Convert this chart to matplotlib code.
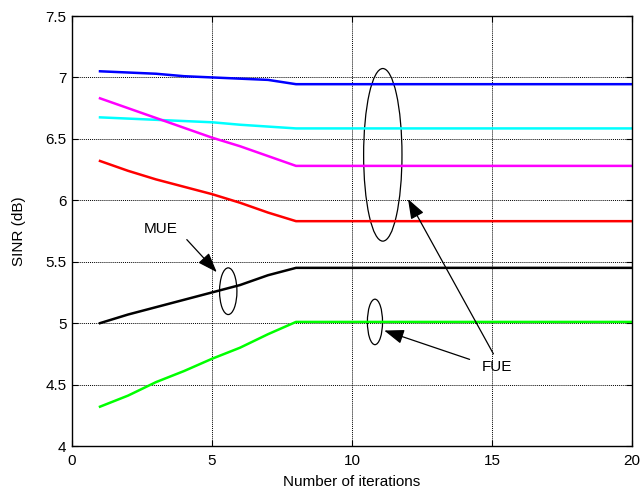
import matplotlib
matplotlib.use('Agg')
import matplotlib.pyplot as plt
from matplotlib.patches import Ellipse
import numpy as np

plt.rcParams['font.family'] = ['Liberation Sans', 'DejaVu Sans']
plt.rcParams['font.size'] = 11

# iterations 1..20, values change until iteration 8 then stay flat
iters = np.arange(1, 21)
blue_head = [7.05, 7.04, 7.03, 7.01, 7.0, 6.99, 6.98, 6.945]
cyan_head = [6.675, 6.665, 6.655, 6.645, 6.635, 6.615, 6.60, 6.585]
magenta_head = [6.83, 6.75, 6.67, 6.59, 6.51, 6.44, 6.36, 6.28]
red_head = [6.32, 6.24, 6.17, 6.11, 6.05, 5.98, 5.90, 5.83]
black_head = [5.0, 5.07, 5.13, 5.19, 5.25, 5.31, 5.39, 5.45]
green_head = [4.32, 4.41, 4.52, 4.61, 4.71, 4.80, 4.91, 5.01]

def extend(head):
    return head + [head[-1]] * (len(iters) - len(head))

series = [
    (blue_head, '#0000ff'),
    (cyan_head, '#00ffff'),
    (magenta_head, '#ff00ff'),
    (red_head, '#ff0000'),
    (black_head, '#000000'),
    (green_head, '#00ff00'),
]

fig = plt.figure(figsize=(6.4, 5.0), dpi=100)
ax = fig.add_axes([0.1125, 0.108, 0.875, 0.86])

for head, color in series:
    ax.plot(iters, extend(head), color=color, linewidth=1.8)

ax.set_xlim(0, 20)
ax.set_ylim(4, 7.5)
ax.set_xticks([0, 5, 10, 15, 20])
ax.set_yticks(np.arange(4, 7.51, 0.5))
ax.set_yticklabels(['4', '4.5', '5', '5.5', '6', '6.5', '7', '7.5'])
ax.grid(True, color='black', linestyle=(0, (1, 1)), linewidth=0.7)
ax.tick_params(direction='in', top=True, right=True, length=4)
ax.tick_params(axis='x', pad=6)
ax.tick_params(axis='y', pad=4)
for s in ax.spines.values():
    s.set_linewidth(1.0)

ax.set_xlabel('Number of iterations', labelpad=5)
ax.set_ylabel('SINR (dB)', labelpad=14)

# ellipses marking groups
ax.add_patch(Ellipse((5.58, 5.26), 0.62, 0.38, fill=False, edgecolor='black', linewidth=0.9))
ax.add_patch(Ellipse((11.1, 6.37), 1.37, 1.405, fill=False, edgecolor='black', linewidth=0.9))
ax.add_patch(Ellipse((10.82, 5.01), 0.54, 0.37, fill=False, edgecolor='black', linewidth=0.9))

arrow = dict(arrowstyle='-|>,head_length=1.1,head_width=0.4', color='black',
             linewidth=0.9, shrinkA=0, shrinkB=0)
ax.text(3.15, 5.77, 'MUE', ha='center', va='center')
ax.annotate('', xy=(5.17, 5.415), xytext=(4.1, 5.68), arrowprops=arrow)

ax.text(15.17, 4.645, 'FUE', ha='center', va='center')
ax.annotate('', xy=(12.0, 6.01), xytext=(15.05, 4.75), arrowprops=arrow)
ax.annotate('', xy=(11.15, 4.94), xytext=(14.2, 4.705), arrowprops=arrow)

fig.savefig('out.png', dpi=100)
